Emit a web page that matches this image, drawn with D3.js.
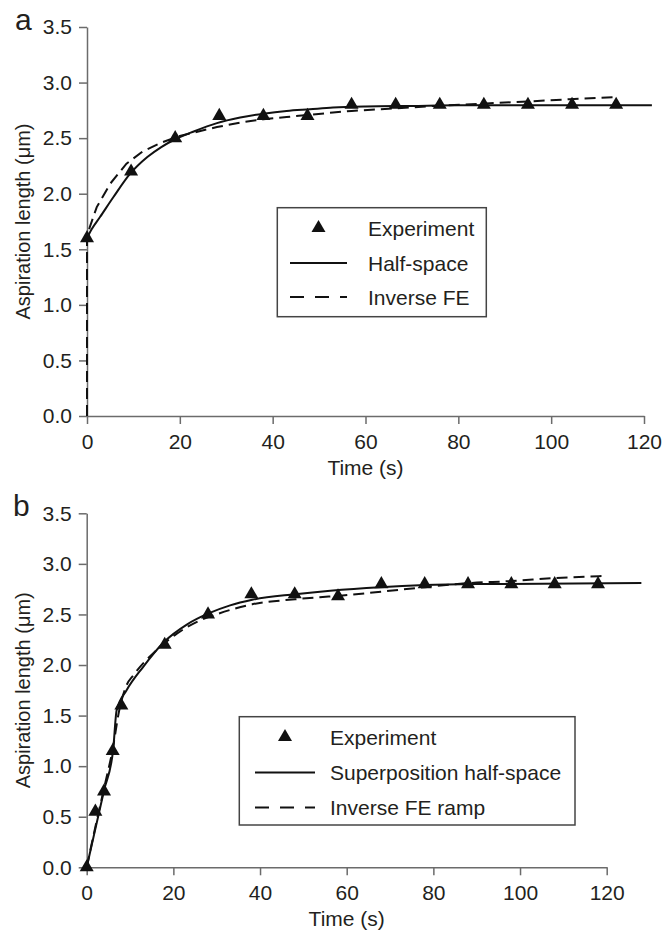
<!DOCTYPE html>
<html>
<head>
<meta charset="utf-8">
<script src="https://cdn.jsdelivr.net/npm/d3@7"></script>
<style>
  html, body { margin: 0; padding: 0; background: #fff; }
  svg { display: block; font-family: "Liberation Sans", Arial, sans-serif; }
</style>
</head>
<body>
<svg id="chart" width="663" height="934"></svg>
<script>
// ---------- Data ----------
const xTicks = [0, 20, 40, 60, 80, 100, 120];
const yTicks = [0, 0.5, 1.0, 1.5, 2.0, 2.5, 3.0, 3.5];

// Panel a
const expA_t = [0, 9.5, 19, 28.5, 38, 47.5, 57, 66.5, 76, 85.5, 95, 104.5, 114];
const expA_v = [1.6, 2.2, 2.5, 2.7, 2.7, 2.7, 2.8, 2.8, 2.8, 2.8, 2.8, 2.8, 2.8];
const hsA_t = [0, 1, 2.8, 5.7, 9.3, 13, 16, 19, 23, 28, 33, 38, 43, 48, 53, 60, 70, 80, 121.7];
const hsA_v = [1.6, 1.68, 1.79, 1.97, 2.18, 2.33, 2.42, 2.49, 2.56, 2.635, 2.685, 2.72, 2.745, 2.76, 2.775, 2.785, 2.79, 2.795, 2.795];
const feA_t = [0, 0, 0.6, 2.1, 5, 8.5, 12, 16, 20, 24, 28, 33, 38, 43, 48, 53, 57, 65, 75, 85, 95, 104, 114];
const feA_v = [0, 1.6, 1.70, 1.88, 2.09, 2.27, 2.38, 2.46, 2.52, 2.56, 2.60, 2.64, 2.67, 2.69, 2.71, 2.73, 2.745, 2.765, 2.79, 2.81, 2.83, 2.85, 2.87];
const legendA = ["Experiment", "Half-space", "Inverse FE"];

// Panel b
const expB_t = [0, 2, 4, 6, 8, 18, 28, 38, 48, 58, 68, 78, 88, 98, 108, 118];
const expB_v = [0, 0.55, 0.75, 1.15, 1.6, 2.2, 2.5, 2.7, 2.7, 2.68, 2.8, 2.8, 2.8, 2.8, 2.8, 2.8];
const shB_t = [0, 2, 4, 6.1, 6.9, 9.2, 13, 17.9, 23.1, 28.1, 33.1, 38.2, 48.1, 56.2, 67.7, 78.1, 90, 128];
const shB_v = [0, 0.38, 0.76, 1.16, 1.55, 1.75, 1.98, 2.23, 2.40, 2.51, 2.59, 2.645, 2.70, 2.735, 2.77, 2.79, 2.80, 2.81];
const feB_t = [0, 2, 4, 6, 7.5, 9.2, 10.8, 16.2, 20.8, 26.1, 29.2, 38.2, 48.1, 53.8, 58.5, 67.9, 78.1, 88.1, 98, 108.2, 119.2];
const feB_v = [0, 0.4, 0.78, 1.17, 1.55, 1.80, 1.9, 2.15, 2.31, 2.44, 2.49, 2.60, 2.65, 2.67, 2.685, 2.725, 2.77, 2.81, 2.83, 2.86, 2.88];
const legendB = ["Experiment", "Superposition half-space", "Inverse FE ramp"];

// ---------- Drawing ----------
const svg = d3.select("#chart");
const TEXT = "#231f20";
const AXIS = "#6b6b6b";
const FONT = 21;

function zip(t, v) { return t.map((d, i) => ({ t: d, v: v[i] })); }

function panel(cfg) {
  const x = d3.scaleLinear().domain([0, 120]).range([cfg.x0, cfg.x1]);
  const y = d3.scaleLinear().domain([0, 3.5]).range([cfg.y0, cfg.y1]);
  const g = svg.append("g");

  // axes
  const xa = g.append("g").attr("transform", `translate(0,${cfg.y0})`)
    .call(d3.axisBottom(x).tickValues(xTicks).tickSize(8).tickSizeOuter(0).tickPadding(10).tickFormat(d3.format("d")));
  const ya = g.append("g").attr("transform", `translate(${cfg.x0},0)`)
    .call(d3.axisLeft(y).tickValues(yTicks).tickSize(8).tickSizeOuter(0).tickPadding(7).tickFormat(d3.format(".1f")));
  [xa, ya].forEach(a => {
    a.selectAll("path.domain").attr("stroke", AXIS).attr("stroke-width", 1.5);
    a.selectAll(".tick line").attr("stroke", AXIS).attr("stroke-width", 1.5);
    a.selectAll(".tick text").attr("fill", TEXT).attr("font-size", FONT)
      .attr("font-family", "'Liberation Sans', Arial, sans-serif");
  });

  // axis titles
  g.append("text").attr("x", (cfg.x0 + cfg.x1) / 2).attr("y", cfg.xTitleY)
    .attr("text-anchor", "middle").attr("font-size", FONT).attr("fill", TEXT).text("Time (s)");
  g.append("text").attr("transform", `translate(${cfg.yTitleX},${(cfg.y0 + cfg.y1) / 2}) rotate(-90)`)
    .attr("text-anchor", "middle").attr("font-size", 20).attr("fill", TEXT).text("Aspiration length (\u03bcm)");
  // panel letter
  g.append("text").attr("x", cfg.letterX).attr("y", cfg.letterY)
    .attr("font-size", 30).attr("fill", TEXT).text(cfg.letter);

  // lines
  const lineSmooth = d3.line().x(d => x(d.t)).y(d => y(d.v)).curve(d3.curveMonotoneX);
  const lineLin = d3.line().x(d => x(d.t)).y(d => y(d.v));
  g.append("path").datum(zip(cfg.dash_t, cfg.dash_v))
    .attr("d", cfg.dashLinear ? lineLin : lineSmooth)
    .attr("fill", "none").attr("stroke", "#111").attr("stroke-width", 2)
    .attr("stroke-dasharray", "11,6");
  g.append("path").datum(zip(cfg.solid_t, cfg.solid_v))
    .attr("d", lineSmooth)
    .attr("fill", "none").attr("stroke", "#111").attr("stroke-width", 2);

  // markers
  const tri = d3.symbol().type(d3.symbolTriangle).size(85);
  g.selectAll("path.mk").data(zip(cfg.exp_t, cfg.exp_v)).join("path")
    .attr("class", "mk").attr("d", tri)
    .attr("transform", d => `translate(${x(d.t)},${y(d.v)})`)
    .attr("fill", "#111");

  // legend
  const L = cfg.legend;
  g.append("rect").attr("x", L.x).attr("y", L.y).attr("width", L.w).attr("height", L.h)
    .attr("fill", "#fff").attr("stroke", "#444").attr("stroke-width", 1.5);
  const rows = L.rows;
  g.append("path").attr("d", tri).attr("transform", `translate(${L.sx0 + (L.sx1 - L.sx0) / 2},${rows[0]})`).attr("fill", "#111");
  g.append("line").attr("x1", L.sx0).attr("x2", L.sx1).attr("y1", rows[1]).attr("y2", rows[1])
    .attr("stroke", "#111").attr("stroke-width", 2);
  g.append("line").attr("x1", L.sx0).attr("x2", L.sx1).attr("y1", rows[2]).attr("y2", rows[2])
    .attr("stroke", "#111").attr("stroke-width", 2).attr("stroke-dasharray", "14,11");
  cfg.labels.forEach((s, i) => {
    g.append("text").attr("x", L.tx).attr("y", rows[i]).attr("dy", "0.36em")
      .attr("font-size", FONT).attr("fill", TEXT).text(s);
  });
}

panel({
  letter: "a", letterX: 15, letterY: 30,
  x0: 87, x1: 644, y0: 416, y1: 27,
  xTitleY: 475, yTitleX: 30,
  exp_t: expA_t, exp_v: expA_v,
  solid_t: hsA_t, solid_v: hsA_v,
  dash_t: feA_t, dash_v: feA_v, dashLinear: true,
  labels: legendA,
  legend: { x: 277.3, y: 207.7, w: 209, h: 109, sx0: 290, sx1: 347, tx: 368, rows: [228, 263, 297] }
});

panel({
  letter: "b", letterX: 13, letterY: 516,
  x0: 86.7, x1: 606.7, y0: 867.3, y1: 513.3,
  xTitleY: 926, yTitleX: 30,
  exp_t: expB_t, exp_v: expB_v,
  solid_t: shB_t, solid_v: shB_v,
  dash_t: feB_t, dash_v: feB_v, dashLinear: false,
  labels: legendB,
  legend: { x: 239.3, y: 716.7, w: 335.7, h: 108.3, sx0: 255, sx1: 315, tx: 330, rows: [737, 772.5, 807.5] }
});
</script>
</body>
</html>
